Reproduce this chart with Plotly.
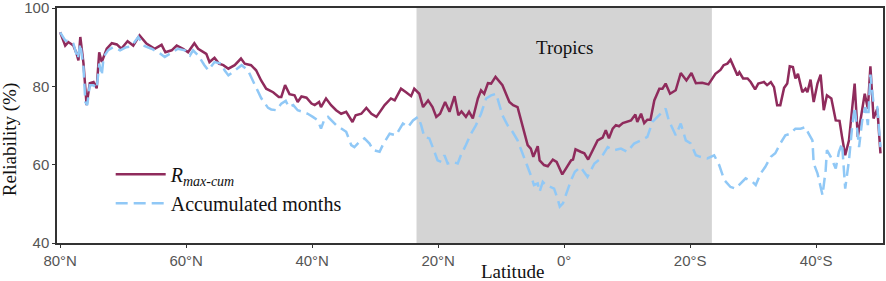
import plotly.graph_objects as go

# Latitude (positive = N, negative = S)
lat_r = [80.0, 79.2, 78.7, 77.9, 77.4, 77.1, 76.8, 76.3, 75.8, 75.3, 74.7, 74.2, 73.8, 73.4, 72.6, 71.8,
         71.0, 70.3, 69.3, 68.4, 67.4, 66.3, 65.0, 63.9, 63.3, 62.3, 61.5, 60.5, 59.7, 58.7, 58.1, 56.8,
         56.3, 55.5, 54.8, 54.1, 53.3, 52.3, 51.3, 50.7, 49.7, 48.9, 48.1, 47.3, 46.2, 45.3, 44.9, 44.3,
         43.6, 42.8, 42.3, 41.7, 40.9, 40.1, 39.6, 38.9, 38.6, 37.8, 37.0, 36.2, 35.4, 34.6, 33.6, 33.1,
         32.2, 31.4, 30.6, 29.8, 28.5, 27.5, 26.9, 25.9, 25.1, 24.3, 23.8, 23.0, 22.4, 21.6, 20.9, 20.3,
         19.7, 18.9, 18.2, 17.4, 16.8, 16.3, 15.6, 15.1, 14.5, 13.7, 13.2, 12.7, 12.1, 11.6, 10.9, 10.4,
         9.8, 8.7, 8.1, 7.4, 6.6, 5.8, 5.3, 4.9, 4.2, 3.9, 3.2, 2.6, 1.8, 1.2, 0.3, -0.4, -1.1, -1.4,
         -1.8, -2.6, -3.2, -3.8, -4.5, -5.3, -6.1, -6.6, -7.1, -7.7, -8.2, -8.7, -9.3, -9.8, -10.6,
         -11.3, -11.6, -12.2, -12.7, -13.2, -13.7, -14.3, -15.1, -15.6, -16.1, -16.8, -17.7, -18.5,
         -19.4, -20.2, -20.9, -21.9, -22.9, -24.0, -24.8, -25.3, -25.9, -26.4, -26.9, -27.5, -27.8,
         -28.4, -29.1, -29.6, -30.3, -30.8, -31.7, -32.2, -32.8, -33.3, -33.8, -34.3, -34.9, -35.4,
         -35.8, -36.3, -36.7, -37.1, -37.8, -38.3, -38.6, -39.1, -39.6, -40.2, -40.7, -41.2, -41.7,
         -42.4, -43.1, -43.7, -44.1, -44.6, -45.2, -45.7, -46.1, -46.6, -47.1, -47.7, -48.2, -48.6,
         -49.1, -49.7, -50.2]
r_max_cum = [93.8, 90.4, 91.3, 90.4, 88.4, 86.6, 92.6, 85.9, 75.2, 80.8, 81.1, 79.5, 88.7, 86.2, 89.6, 91.0,
             90.7, 89.6, 91.5, 90.4, 93.0, 90.9, 89.6, 90.6, 88.7, 89.2, 90.4, 89.6, 88.7, 91.0, 89.6, 88.3,
             86.2, 87.3, 85.8, 85.4, 84.5, 85.4, 87.1, 85.8, 85.4, 84.1, 81.5, 79.4, 78.5, 77.3, 77.3, 80.3,
             78.0, 77.7, 76.0, 77.4, 77.1, 75.6, 75.2, 76.0, 74.7, 76.9, 75.2, 73.9, 73.0, 73.5, 70.9, 72.6,
             73.0, 74.5, 73.0, 72.2, 75.2, 76.9, 76.4, 79.4, 78.5, 77.5, 79.4, 78.1, 74.7, 76.4, 74.7, 72.2,
             73.0, 76.0, 73.5, 77.5, 72.6, 73.6, 72.2, 73.5, 71.8, 76.9, 79.0, 78.1, 80.8, 80.7, 82.4, 81.5,
             80.3, 76.0, 75.2, 74.7, 69.6, 65.0, 64.1, 62.0, 64.7, 61.1, 59.9, 59.6, 61.3, 60.7, 57.5, 59.4,
             61.1, 61.3, 63.9, 63.3, 62.9, 61.3, 63.7, 66.2, 66.9, 68.8, 66.7, 69.2, 70.1, 69.8, 70.6, 70.9,
             71.3, 72.8, 70.9, 73.0, 70.6, 71.5, 71.5, 76.4, 79.4, 79.4, 80.7, 78.1, 79.0, 83.4, 81.5, 83.4,
             80.8, 80.9, 80.5, 83.2, 84.2, 85.4, 85.8, 86.8, 84.9, 82.8, 83.6, 82.0, 82.0, 81.1, 79.2, 80.7,
             81.1, 80.3, 81.1, 79.8, 75.2, 75.2, 79.6, 80.7, 85.1, 84.9, 82.0, 83.2, 78.5, 79.4, 78.5, 81.7,
             76.0, 80.7, 83.0, 73.9, 77.7, 76.9, 71.3, 71.2, 67.1, 62.4, 66.2, 74.7, 80.7, 67.1, 72.6, 78.1,
             74.3, 85.1, 71.8, 74.3, 62.9]

lat_a = [80.0, 79.2, 78.7, 77.9, 77.2, 76.8, 76.3, 76.0, 75.7, 75.3, 74.7, 74.2, 73.8, 73.4, 73.1, 72.4,
         71.6, 70.5, 69.5, 68.7, 67.6, 66.8, 65.5, 64.4, 63.4, 62.3, 61.3, 60.2, 59.4, 58.9, 58.1, 57.1,
         56.5, 55.5, 54.4, 53.9, 53.3, 52.6, 51.2, 50.2, 49.1, 48.1, 47.0, 46.5, 45.7, 44.9, 44.2, 43.7,
         43.0, 42.3, 41.5, 40.7, 39.9, 39.1, 38.6, 38.0, 37.5, 36.7, 36.2, 34.6, 33.8, 33.3, 32.5, 31.7,
         30.9, 30.3, 29.3, 28.8, 27.7, 26.7, 25.6, 24.8, 24.0, 23.2, 22.7, 22.2, 21.4, 20.6, 20.1, 19.5,
         19.0, 18.5, 17.7, 16.9, 16.4, 15.6, 14.8, 14.0, 13.2, 12.4, 11.6, 10.8, 10.3, 9.8, 9.0, 8.2,
         7.4, 6.6, 5.8, 5.3, 4.8, 4.2, 3.9, 3.4, 2.9, 1.6, 1.0, 0.7, 0.2, -0.4, -1.1, -1.7, -2.6, -3.7,
         -4.8, -5.8, -6.9, -7.9, -9.0, -10.0, -11.1, -12.2, -13.2, -14.0, -15.1, -16.1, -16.6, -17.7,
         -18.5, -19.3, -20.1, -20.9, -21.6, -22.7, -23.8, -24.6, -25.4, -26.4, -27.2, -28.0, -28.8,
         -29.9, -30.4, -31.2, -31.9, -32.8, -33.5, -34.3, -35.1, -35.9, -36.7, -37.5, -38.3, -38.8,
         -39.4, -39.6, -40.2, -40.7, -41.0, -41.5, -41.7, -42.3, -43.1, -43.6, -44.1, -44.6, -45.2,
         -45.7, -46.1, -46.8, -47.3, -47.8, -48.2, -48.6, -49.1, -49.7, -50.2]
acc_months = [93.8, 91.7, 91.5, 90.9, 87.0, 90.9, 84.9, 76.0, 75.2, 80.3, 80.3, 79.4, 85.8, 82.8, 87.5, 89.2,
              90.0, 89.2, 90.0, 90.2, 92.6, 90.4, 89.6, 88.7, 87.5, 88.7, 89.6, 89.2, 87.9, 89.2, 87.9, 85.4,
              84.1, 86.2, 85.8, 84.1, 82.8, 83.6, 85.4, 84.1, 80.5, 77.0, 74.5, 74.1, 73.9, 75.6, 76.3, 74.7,
              75.2, 73.9, 73.5, 73.0, 72.2, 71.3, 69.2, 71.8, 72.2, 70.9, 70.1, 68.4, 65.0, 64.5, 65.8, 66.7,
              65.4, 63.7, 63.3, 65.0, 67.9, 67.5, 70.5, 69.6, 71.3, 72.2, 70.1, 67.1, 66.7, 63.3, 61.1, 60.7,
              62.4, 60.3, 60.7, 60.3, 62.4, 65.0, 67.9, 70.1, 73.0, 76.9, 77.7, 78.1, 75.2, 72.6, 70.1, 68.4,
              66.2, 62.9, 59.4, 57.3, 54.8, 55.2, 53.1, 55.6, 54.8, 53.9, 51.0, 49.3, 50.1, 53.1, 56.1, 58.2,
              59.4, 56.9, 60.3, 61.6, 64.5, 63.7, 64.1, 63.3, 65.4, 66.2, 67.1, 70.9, 72.6, 74.3, 71.3, 67.5,
              70.5, 66.2, 65.4, 62.4, 62.0, 61.6, 62.4, 59.9, 56.1, 54.3, 53.9, 55.2, 56.5, 55.6, 54.8, 57.8,
              59.4, 62.0, 62.9, 65.4, 67.5, 67.9, 69.2, 69.2, 69.6, 67.9, 66.2, 60.3, 57.8, 54.3, 52.2, 58.6,
              63.7, 62.0, 59.0, 63.3, 65.4, 53.9, 61.1, 69.6, 74.7, 64.5, 71.3, 74.7, 70.1, 83.0, 75.6, 74.7,
              64.5]

tick_vals = [80, 60, 40, 20, 0, -20, -40]
tick_text = ["80°N", "60°N", "40°N", "20°N", "0°", "20°S", "40°S"]
y_ticks = [40, 60, 80, 100]
tropic_n, tropic_s = 23.44, -23.44

SERIF = "Liberation Serif, Times New Roman, serif"
SANS = "Liberation Sans, Arial, sans-serif"

fig = go.Figure()
fig.add_shape(type="rect", xref="x", yref="y", x0=tropic_n, x1=tropic_s, y0=40, y1=100,
              fillcolor="#d4d4d4", line_width=0, layer="below")
fig.add_trace(go.Scatter(x=lat_r, y=r_max_cum, mode="lines",
                         name="<i>R</i><sub><i>max-cum</i></sub>",
                         line=dict(color="#8f2b5c", width=2.5)))
fig.add_trace(go.Scatter(x=lat_a, y=acc_months, mode="lines", name="Accumulated months",
                         line=dict(color="#90c8f6", width=2.5, dash="12px,6px")))

fig.add_annotation(x=0, y=90, xref="x", yref="y", text="Tropics", showarrow=False,
                   font=dict(family=SERIF, size=19, color="#111"))
fig.add_annotation(x=(512 - 57) / 826, y=-(272 - 243) / 235.5, xref="paper", yref="paper", text="Latitude",
                   showarrow=False, yanchor="middle", font=dict(family=SERIF, size=19, color="#111"))
fig.add_annotation(x=-(57 - 10) / 826, y=(243 - 140) / 235.5, xref="paper", yref="paper",
                   text="Reliability (%)",
                   showarrow=False, textangle=-90, xanchor="center", yanchor="middle",
                   font=dict(family=SERIF, size=19, color="#111"))

fig.update_layout(
    width=886, height=281,
    margin=dict(l=57, r=3, t=8, b=38, autoexpand=False),
    plot_bgcolor="white", paper_bgcolor="white",
    showlegend=True,
    legend=dict(x=0.065, y=0.376, xanchor="left", yanchor="top", bgcolor="rgba(0,0,0,0)",
                itemwidth=50,
                font=dict(family=SERIF, size=20, color="#111"), tracegroupgap=0),
)
fig.update_xaxes(range=[80.5, -50.6], tickvals=tick_vals, ticktext=tick_text,
                 showgrid=False, zeroline=False, showline=True, linecolor="#333", linewidth=1.5,
                 mirror=True, ticks="outside", ticklen=3, tickcolor="#333",
                 ticklabeloverflow="allow",
                 tickfont=dict(family=SANS, size=15, color="#555"))
fig.update_yaxes(range=[40, 100], tickvals=y_ticks, showgrid=False, zeroline=False,
                 showline=True, linecolor="#333", linewidth=1.5, mirror=True,
                 ticks="outside", ticklen=3, tickcolor="#333",
                 ticklabeloverflow="allow",
                 tickfont=dict(family=SANS, size=15, color="#555"))

fig.write_html("out.html", config={"displayModeBar": False},
               post_script="document.body.style.margin='0';document.body.style.overflow='hidden';")
